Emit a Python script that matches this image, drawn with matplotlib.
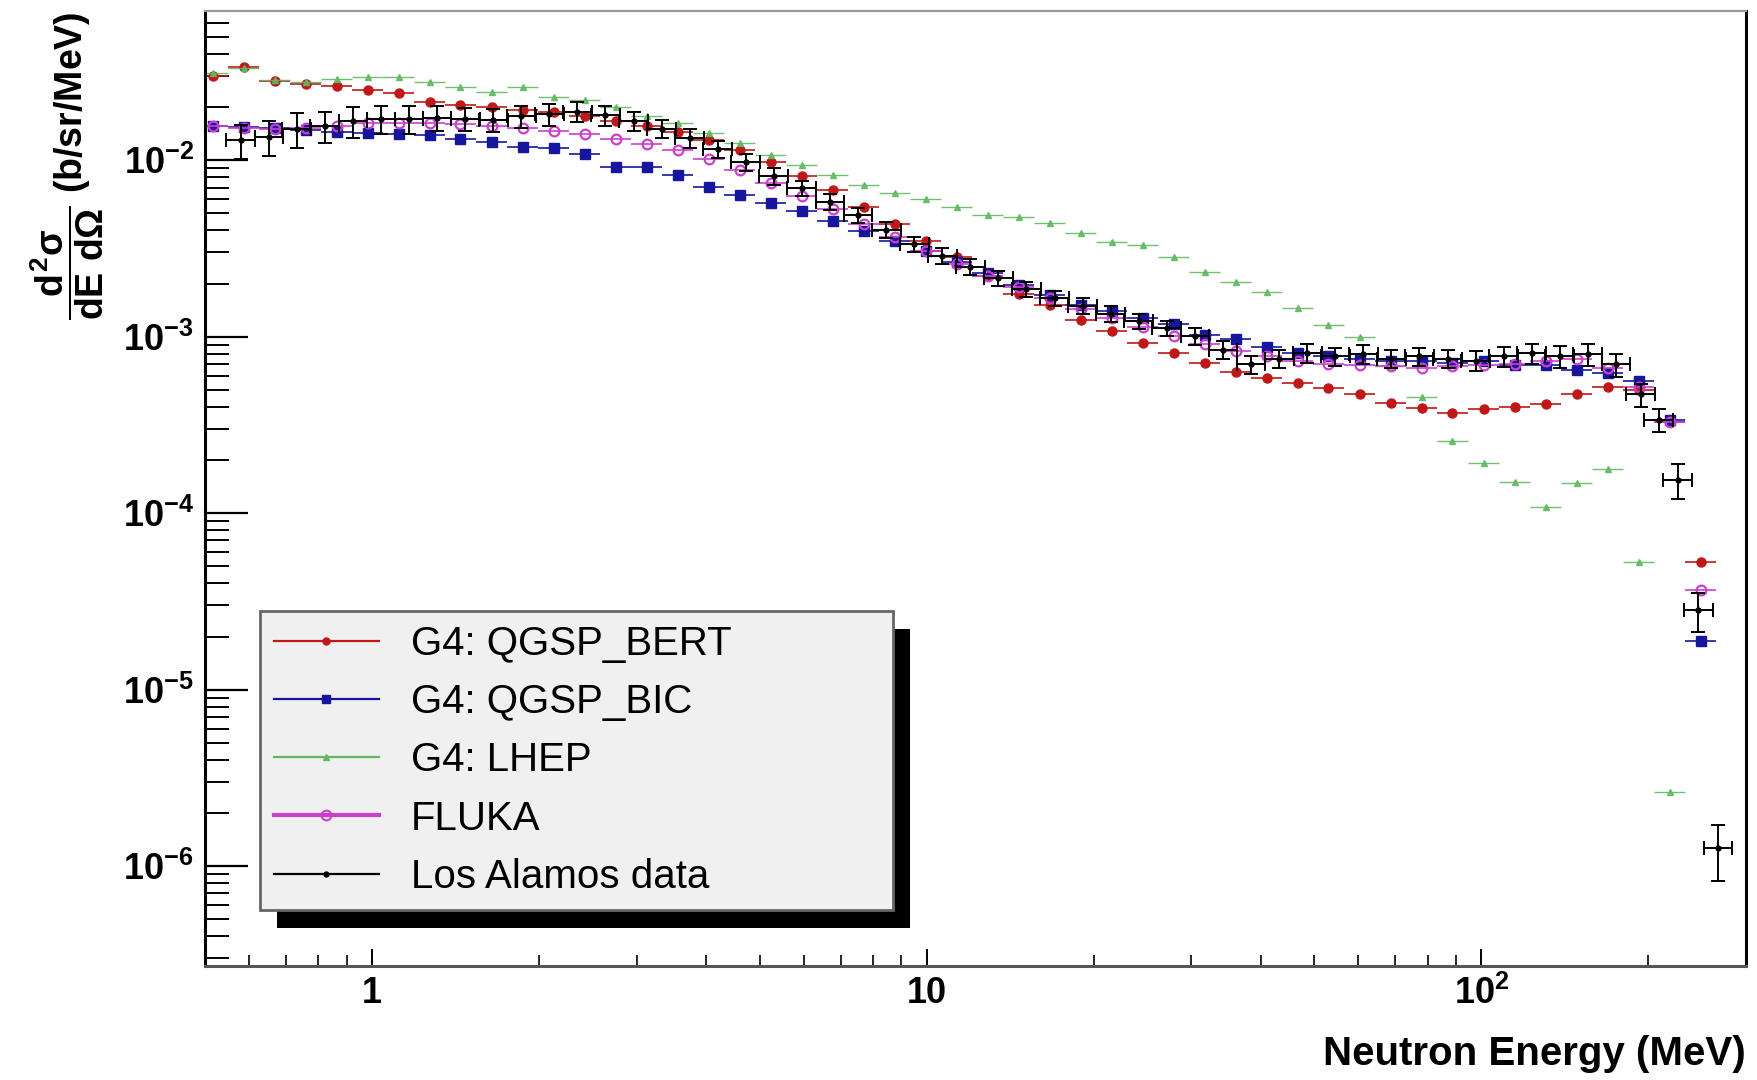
import numpy as np
import matplotlib
matplotlib.use("Agg")
import matplotlib.pyplot as plt
from matplotlib.lines import Line2D
from matplotlib.patches import Rectangle
from matplotlib.ticker import FixedLocator, FixedFormatter, LogLocator, NullFormatter

# bin centres (MeV) shared by the simulated spectra
model_energy = [0.516, 0.587, 0.668, 0.760, 0.864, 0.982, 1.117, 1.270, 1.444, 1.643,
                1.869, 2.126, 2.417, 2.749, 3.126, 3.556, 4.044, 4.600, 5.232, 5.951,
                6.769, 7.698, 8.756, 9.959, 11.33, 12.88, 14.65, 16.67, 18.96, 21.56,
                24.53, 27.90, 31.73, 36.09, 41.05, 46.69, 53.0, 60.3, 68.6, 78.0,
                88.7, 100.9, 114.8, 130.6, 148.5, 168.8, 192.0, 218.4, 248.4]

qgsp_bert = [0.0300, 0.0337, 0.0280, 0.0270, 0.0262, 0.0251, 0.0240, 0.0214, 0.0205, 0.0199,
             0.0193, 0.0188, 0.0177, 0.0167, 0.0157, 0.0144, 0.0130, 0.0114, 0.00971, 0.00815,
             0.00675, 0.00541, 0.00435, 0.00349, 0.00281, 0.00222, 0.00175, 0.00152, 0.00125, 0.00107,
             0.000923, 0.000809, 0.000710, 0.000631, 0.000586, 0.000546, 0.000514, 0.000471, 0.000419, 0.000395,
             0.000367, 0.000389, 0.000401, 0.000413, 0.000471, 0.000521, 0.000499, 0.000327, 5.26e-5]

qgsp_bic = [0.0157, 0.0155, 0.0153, 0.0148, 0.0144, 0.0142, 0.0140, 0.0138, 0.0132, 0.0126,
            0.0119, 0.0117, 0.0108, 0.00916, 0.00916, 0.00826, 0.00705, 0.00635, 0.00574, 0.00518,
            0.00454, 0.00398, 0.00349, 0.00306, 0.00264, 0.00229, 0.00197, 0.00173, 0.00152, 0.00139,
            0.00127, 0.00118, 0.00102, 0.000964, 0.000871, 0.000809, 0.000774, 0.000752, 0.000730, 0.000730,
            0.000710, 0.000730, 0.000689, 0.000689, 0.000650, 0.000622, 0.000561, 0.000337, 1.89e-5]

# LHEP has no entry in the last bin
lhep = [0.0313, 0.0332, 0.0286, 0.0278, 0.0290, 0.0295, 0.0295, 0.0278, 0.0259, 0.0244,
        0.0259, 0.0227, 0.0220, 0.0199, 0.0179, 0.0162, 0.0142, 0.01245, 0.01076, 0.00944,
        0.00827, 0.00725, 0.00655, 0.00600, 0.00541, 0.00489, 0.00474, 0.00441, 0.00386, 0.00344,
        0.00329, 0.00284, 0.00232, 0.00203, 0.00178, 0.00145, 0.00117, 0.000993, 0.000679, 0.000457,
        0.000255, 0.000193, 0.000151, 0.000108, 0.000148, 0.000177, 5.26e-5, 2.62e-6]

fluka = [0.0157, 0.0153, 0.0151, 0.0153, 0.0157, 0.0162, 0.0162, 0.0162, 0.0160, 0.0157,
         0.0153, 0.0146, 0.0140, 0.0132, 0.0124, 0.0114, 0.0101, 0.00877, 0.00746, 0.00627,
         0.00526, 0.00435, 0.00365, 0.00306, 0.00257, 0.00222, 0.00192, 0.00166, 0.00143, 0.00127,
         0.00113, 0.00101, 0.000910, 0.000834, 0.000774, 0.000730, 0.000698, 0.000689, 0.000679, 0.000668,
         0.000679, 0.000689, 0.000698, 0.000730, 0.000752, 0.000668, 0.000521, 0.000327, 3.65e-5]

lanl_energy = [0.580, 0.652, 0.732, 0.822, 0.924, 1.038, 1.166, 1.310, 1.472, 1.654,
               1.858, 2.088, 2.346, 2.636, 2.962, 3.327, 3.739, 4.201, 4.720, 5.303,
               5.958, 6.695, 7.522, 8.451, 9.495, 10.67, 11.99, 13.47, 15.13, 17.00,
               19.10, 21.46, 24.12, 27.10, 30.45, 34.21, 38.44, 43.19, 48.52, 54.52,
               61.26, 68.83, 77.34, 86.89, 97.63, 109.7, 123.3, 138.5, 155.6, 174.9,
               193.7, 208.9, 226.0, 246.0, 267.0]

lanl_xs = [0.0130, 0.0136, 0.0151, 0.0157, 0.0167, 0.0172, 0.0172, 0.0174, 0.0172, 0.0169,
           0.0177, 0.0182, 0.0188, 0.0180, 0.0167, 0.0151, 0.0134, 0.0116, 0.00971, 0.00815,
           0.00694, 0.00582, 0.00489, 0.00404, 0.00334, 0.00288, 0.00249, 0.00215, 0.00186, 0.00166,
           0.00150, 0.00135, 0.00122, 0.00112, 0.00101, 0.000845, 0.000698, 0.000752, 0.000809, 0.000774,
           0.000798, 0.000752, 0.000774, 0.000752, 0.000730, 0.000774, 0.000809, 0.000774, 0.000798, 0.000698,
           0.000471, 0.000337, 0.000155, 2.81e-5, 1.26e-6]

lanl_rel_err = [0.22, 0.22, 0.22, 0.20, 0.20, 0.18, 0.18, 0.16, 0.15, 0.15,
                0.14, 0.14, 0.13, 0.13, 0.12, 0.12, 0.12, 0.11, 0.11, 0.11,
                0.10, 0.10, 0.10, 0.10, 0.10, 0.10, 0.10, 0.10, 0.10, 0.10,
                0.10, 0.10, 0.10, 0.10, 0.11, 0.12, 0.12, 0.12, 0.12, 0.12,
                0.12, 0.12, 0.12, 0.12, 0.13, 0.13, 0.13, 0.14, 0.14, 0.15,
                0.15, 0.15, 0.22, 0.25, 0.35]

labels = ["G4: QGSP_BERT", "G4: QGSP_BIC", "G4: LHEP", "FLUKA", "Los Alamos data"]

MODEL_HALF_DEX = 0.028
DATA_HALF_DEX = 0.026


def log_xerr(energy, half_dex):
    e = np.asarray(energy)
    return [e - e / 10**half_dex, e * 10**half_dex - e]


def main():
    plt.rcParams["font.family"] = ["Liberation Sans", "DejaVu Sans"]
    plt.rcParams["mathtext.fontset"] = "custom"
    plt.rcParams["mathtext.rm"] = "Liberation Sans:bold"
    plt.rcParams["mathtext.it"] = "Liberation Sans:bold"
    plt.rcParams["mathtext.bf"] = "Liberation Sans:bold"

    fig = plt.figure(figsize=(17.58, 10.8), dpi=100)
    ax = fig.add_axes([0.1166, 0.1051, 0.8766, 0.8847])
    ax.set_xscale("log")
    ax.set_yscale("log")

    red, blue, green, magenta = "#c01818", "#16169c", "#62b862", "#cc3fcc"

    # drawing order as in the original: BERT, BIC, LHEP, FLUKA, data on top
    ax.errorbar(model_energy, qgsp_bert, xerr=log_xerr(model_energy, MODEL_HALF_DEX),
                fmt="o", color=red, ms=6.5, elinewidth=1.2, zorder=2)
    ax.errorbar(model_energy, qgsp_bic, xerr=log_xerr(model_energy, MODEL_HALF_DEX),
                fmt="s", color=blue, ms=6.5, elinewidth=1.2, zorder=2.1)
    lhep_energy = model_energy[:len(lhep)]
    ax.errorbar(lhep_energy, lhep, xerr=log_xerr(lhep_energy, MODEL_HALF_DEX),
                fmt="^", color=green, ms=5, elinewidth=1, alpha=0.9, zorder=2.2)
    ax.errorbar(model_energy, fluka, xerr=log_xerr(model_energy, MODEL_HALF_DEX),
                fmt="o", color=magenta, mfc="none", mew=1.6, ms=7, elinewidth=1.2, zorder=2.3)
    xs = np.asarray(lanl_xs)
    ax.errorbar(lanl_energy, lanl_xs, xerr=log_xerr(lanl_energy, DATA_HALF_DEX),
                yerr=xs * np.asarray(lanl_rel_err), fmt="o", color="black", ms=3.5,
                elinewidth=1.4, capsize=5, capthick=1.4, zorder=4)

    ax.set_xlim(0.5, 300)
    ax.set_ylim(2.7e-7, 0.07)

    ax.xaxis.set_major_locator(FixedLocator([1, 10, 100]))
    ax.xaxis.set_major_formatter(FixedFormatter(["1", "10", r"$\mathbf{10^{2}}$"]))
    ax.xaxis.set_minor_locator(LogLocator(base=10, subs=range(2, 10), numticks=20))
    ax.xaxis.set_minor_formatter(NullFormatter())
    ydec = [1e-6, 1e-5, 1e-4, 1e-3, 1e-2]
    ax.yaxis.set_major_locator(FixedLocator(ydec))
    ax.yaxis.set_major_formatter(FixedFormatter(
        [r"$\mathbf{10^{-%d}}$" % n for n in (6, 5, 4, 3, 2)]))
    ax.yaxis.set_minor_locator(LogLocator(base=10, subs=range(2, 10), numticks=20))
    ax.yaxis.set_minor_formatter(NullFormatter())

    ax.tick_params(which="both", direction="in", top=False, right=False, colors="black")
    ax.tick_params(axis="y", which="major", length=31, width=1.6, pad=8, labelsize=26)
    ax.tick_params(axis="y", which="minor", length=17, width=1.4)
    ax.tick_params(axis="x", which="major", length=12, width=1.4, pad=7, labelsize=26)
    ax.tick_params(axis="x", which="minor", length=8, width=1.2)
    for lab in ax.get_xticklabels() + ax.get_yticklabels():
        lab.set_fontweight("bold")

    ax.spines["left"].set_color("black")
    ax.spines["left"].set_linewidth(2.2)
    ax.spines["right"].set_color("black")
    ax.spines["right"].set_linewidth(2.2)
    ax.spines["bottom"].set_color("#555555")
    ax.spines["bottom"].set_linewidth(2.2)
    ax.spines["top"].set_color("#999999")
    ax.spines["top"].set_linewidth(1.6)

    ax.set_ylabel(r"$\dfrac{d^{2}\sigma}{dE\ d\Omega}$ (b/sr/MeV)",
                  fontsize=27, fontweight="bold", loc="top")
    ax.yaxis.set_label_coords(-0.064, 1.0)
    ax.set_xlabel("Neutron Energy (MeV)", fontsize=29, fontweight="bold", loc="right")
    ax.xaxis.set_label_coords(1.0, -0.072)

    handles = [
        Line2D([], [], color=red, marker="o", ms=5, lw=1.6),
        Line2D([], [], color=blue, marker="s", ms=6, lw=1.6),
        Line2D([], [], color=green, marker="^", ms=5, lw=1.6),
        Line2D([], [], color=magenta, marker="o", mfc="none", ms=7, mew=1.5, lw=3),
        Line2D([], [], color="black", marker="o", ms=3.5, lw=1.6),
    ]
    leg = ax.legend(handles, labels, loc="upper left", bbox_to_anchor=(0.0357, 0.059, 0.411, 0.313),
                    mode="expand", fontsize=29, frameon=True, fancybox=False, borderaxespad=0,
                    borderpad=0.35, labelspacing=0.5, handlelength=2.6, handletextpad=0.8)
    leg.get_frame().set_facecolor("#f0f0f0")
    leg.get_frame().set_edgecolor("#666666")
    leg.get_frame().set_linewidth(2)
    leg.get_frame().set_alpha(1)
    leg.set_zorder(10)

    fig.canvas.draw()
    bb = leg.get_window_extent().transformed(ax.transAxes.inverted())
    ax.add_patch(Rectangle((bb.x0 + 0.011, bb.y0 - 0.019), bb.width, bb.height,
                           transform=ax.transAxes, facecolor="black", edgecolor="none",
                           zorder=9, clip_on=False))

    fig.savefig("out.png", dpi=100)
    plt.close(fig)


if __name__ == "__main__":
    main()
